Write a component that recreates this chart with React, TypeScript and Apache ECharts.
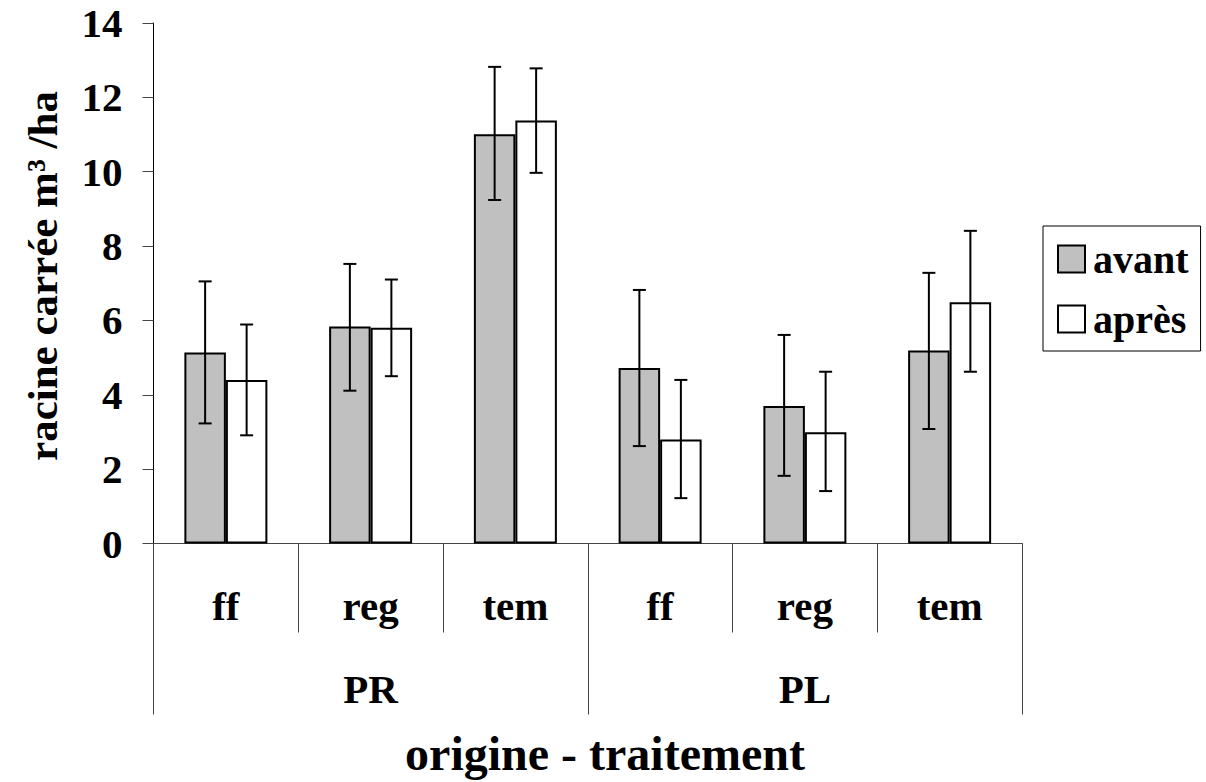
import React, { useEffect, useRef } from "react";
import * as echarts from "echarts";

const categories = ["ff", "reg", "tem", "ff", "reg", "tem"];
const groups = ["PR", "PL"];
const yTicks = [0, 2, 4, 6, 8, 10, 12, 14];

const avant = [5.14, 5.84, 11.01, 4.72, 3.7, 5.19];
const avantHigh = [7.05, 7.52, 12.82, 6.82, 5.61, 7.28];
const avantLow = [3.23, 4.11, 9.24, 2.62, 1.82, 3.08];

const apres = [4.4, 5.8, 11.38, 2.8, 2.99, 6.49];
const apresHigh = [5.89, 7.1, 12.78, 4.4, 4.62, 8.41];
const apresLow = [2.91, 4.5, 9.97, 1.22, 1.41, 4.62];

const FONT = '"Liberation Serif", "Times New Roman", serif';
const BAR_W = 41.5;

function errorSeries(name: string, low: number[], high: number[], offset: number) {
  return {
    name,
    type: "custom",
    xAxisIndex: 0,
    yAxisIndex: 0,
    z: 10,
    data: low.map((l, i) => [i, l, high[i]]),
    encode: { x: 0, y: [1, 2] },
    renderItem: (params: any, api: any) => {
      const lowP = api.coord([api.value(0), api.value(1)]);
      const highP = api.coord([api.value(0), api.value(2)]);
      const cx = lowP[0] + offset;
      const cap = 6.5;
      const style = { stroke: "#000", lineWidth: 2 };
      return {
        type: "group",
        children: [
          { type: "line", shape: { x1: cx, y1: highP[1], x2: cx, y2: lowP[1] }, style },
          { type: "line", shape: { x1: cx - cap, y1: highP[1], x2: cx + cap, y2: highP[1] }, style },
          { type: "line", shape: { x1: cx - cap, y1: lowP[1], x2: cx + cap, y2: lowP[1] }, style },
        ],
      };
    },
  };
}

export default function App() {
  const ref = useRef<HTMLDivElement>(null);

  useEffect(() => {
    if (!ref.current) return;
    const chart = echarts.init(ref.current, null, { renderer: "svg" });
    const option: any = {
      animation: false,
      backgroundColor: "#fff",
      textStyle: { fontFamily: FONT },
      grid: { left: 153.5, top: 23, width: 868.5, height: 520.5 },
      legend: {
        data: ["avant", "après"],
        orient: "vertical",
        left: 1043,
        top: 226,
        padding: [13, 12, 12, 14],
        itemGap: 20,
        itemWidth: 27,
        itemHeight: 27,
        icon: "rect",
        borderColor: "#000",
        borderWidth: 1,
        textStyle: {
          fontFamily: FONT,
          fontWeight: "bold",
          fontSize: 40,
          color: "#000",
          padding: [0, 0, 0, 3],
        },
      },
      xAxis: [
        {
          type: "category",
          data: categories,
          position: "bottom",
          axisLine: { show: true, lineStyle: { color: "#444", width: 1 } },
          axisTick: { show: true, length: 89, interval: 0, lineStyle: { color: "#444", width: 1 } },
          axisLabel: {
            interval: 0,
            margin: 42,
            fontFamily: FONT,
            fontWeight: "bold",
            fontSize: 41,
            color: "#000",
          },
          splitLine: { show: false },
        },
        {
          type: "category",
          data: groups,
          position: "bottom",
          axisLine: { show: false },
          axisTick: { show: true, length: 171, interval: 0, lineStyle: { color: "#444", width: 1 } },
          axisLabel: {
            interval: 0,
            margin: 125,
            fontFamily: FONT,
            fontWeight: "bold",
            fontSize: 41,
            color: "#000",
          },
          splitLine: { show: false },
        },
      ],
      yAxis: {
        type: "value",
        min: yTicks[0],
        max: yTicks[yTicks.length - 1],
        interval: 2,
        axisLine: { show: true, lineStyle: { color: "#000", width: 1 } },
        axisTick: { show: true, length: 11, lineStyle: { color: "#444", width: 1 } },
        axisLabel: {
          margin: 31,
          fontFamily: FONT,
          fontWeight: "bold",
          fontSize: 41,
          color: "#000",
        },
        splitLine: { show: false },
      },
      graphic: [
        {
          type: "text",
          x: 42,
          y: 276,
          rotation: Math.PI / 2,
          style: {
            text: "racine carrée m³ /ha",
            fontFamily: FONT,
            fontWeight: "bold",
            fontSize: 43,
            fill: "#000",
            align: "center",
            verticalAlign: "middle",
          },
        },
        {
          type: "text",
          x: 605,
          y: 753,
          style: {
            text: "origine - traitement",
            fontFamily: FONT,
            fontWeight: "bold",
            fontSize: 48,
            fill: "#000",
            align: "center",
            verticalAlign: "middle",
          },
        },
      ],
      series: [
        {
          name: "avant",
          type: "bar",
          data: avant,
          barWidth: BAR_W,
          barGap: "0%",
          itemStyle: { color: "#c0c0c0", borderColor: "#000", borderWidth: 2 },
        },
        {
          name: "après",
          type: "bar",
          data: apres,
          barWidth: BAR_W,
          barGap: "0%",
          itemStyle: { color: "#ffffff", borderColor: "#000", borderWidth: 2 },
        },
        errorSeries("err-avant", avantLow, avantHigh, -BAR_W / 2),
        errorSeries("err-apres", apresLow, apresHigh, BAR_W / 2),
      ],
    };
    chart.setOption(option);
    return () => chart.dispose();
  }, []);

  return (
    <div
      ref={ref}
      style={{ position: "absolute", left: 0, top: 0, width: 1206, height: 782, background: "#fff" }}
    />
  );
}
